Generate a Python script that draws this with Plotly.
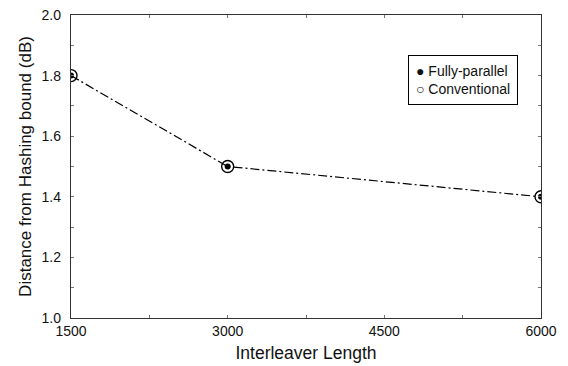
import plotly.graph_objects as go

interleaver_length = [1500, 3000, 6000]
fully_parallel = [1.8, 1.5, 1.4]
conventional = [1.8, 1.5, 1.4]
x_ticks = [1500, 3000, 4500, 6000]
y_ticks = [1.0, 1.2, 1.4, 1.6, 1.8, 2.0]
legend_labels = ["Fully-parallel", "Conventional"]

FONT = "Liberation Sans, Arial, sans-serif"

fig = go.Figure()
# connecting dash-dot line
fig.add_trace(go.Scatter(x=interleaver_length, y=fully_parallel, mode="lines",
                         line=dict(color="black", width=1.2, dash="9px,3px,2px,3px"),
                         showlegend=False, hoverinfo="skip"))
# conventional: open circles
fig.add_trace(go.Scatter(x=interleaver_length, y=conventional, mode="markers",
                         name=legend_labels[1],
                         marker=dict(symbol="circle-open", size=12, color="black",
                                     line=dict(width=1.4, color="black")),
                         showlegend=False))
# fully-parallel: filled dots
fig.add_trace(go.Scatter(x=interleaver_length, y=fully_parallel, mode="markers",
                         name=legend_labels[0],
                         marker=dict(symbol="circle", size=6, color="black"),
                         showlegend=False))

axis_common = dict(showgrid=False, zeroline=False, showline=True, linecolor="#333333",
                   linewidth=1.3, mirror="ticks", ticks="inside", ticklen=3,
                   tickcolor="#777777", automargin=False,
                   tickfont=dict(family=FONT, size=14, color="#111111"))

fig.update_xaxes(range=[1500, 6000], tickvals=x_ticks, ticktext=[str(v) for v in x_ticks],
                 minor=dict(dtick=750, tick0=1500, ticks="inside", ticklen=3, tickcolor="#777777"),
                 ticklabelstandoff=0,
                 title=dict(text="Interleaver Length", font=dict(family=FONT, size=17.5, color="#111111"),
                            standoff=8),
                 **axis_common)
fig.update_yaxes(range=[1.0, 2.0], tickvals=y_ticks, ticktext=[f"{v:.1f}" for v in y_ticks],
                 minor=dict(dtick=0.1, tick0=1.0, ticks="inside", ticklen=3, tickcolor="#777777"),
                 ticklabelstandoff=6,
                 title=dict(text="Distance from Hashing bound (dB)",
                            font=dict(family=FONT, size=17, color="#111111"), standoff=5),
                 **axis_common)

legend_text = (f"● {legend_labels[0]}<br>○ {legend_labels[1]}")

fig.update_layout(
    width=568, height=366,
    margin=dict(l=71, r=27, t=15, b=48),
    plot_bgcolor="white", paper_bgcolor="white",
    font=dict(family=FONT, color="#111111"),
    showlegend=False,
    annotations=[dict(xref="paper", yref="paper", x=0.718, y=0.868,
                      xanchor="left", yanchor="top", showarrow=False,
                      text=legend_text, align="left", width=94,
                      font=dict(family=FONT, size=14, color="#111111"),
                      bordercolor="black", borderwidth=1, borderpad=7,
                      bgcolor="white")],
)

fig.write_html("out.html", config={"displayModeBar": False},
               post_script="document.body.style.margin='0';document.body.style.padding='0';")
